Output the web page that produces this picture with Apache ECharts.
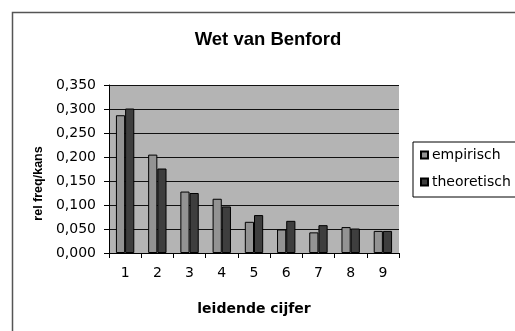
<!DOCTYPE html>
<html><head><meta charset="utf-8">
<script src="https://cdn.jsdelivr.net/npm/echarts@6/dist/echarts.min.js"></script>
<style>html,body{margin:0;padding:0;background:#fff}#c{width:515px;height:331px}</style>
</head><body><div id="c"></div>
<script>
var categories = ['1','2','3','4','5','6','7','8','9'];
var empirisch = [0.287, 0.205, 0.128, 0.113, 0.065, 0.049, 0.043, 0.054, 0.046];
var theoretisch = [0.301, 0.176, 0.125, 0.097, 0.079, 0.067, 0.058, 0.051, 0.046];
var yTicks = {min: 0, max: 0.35, interval: 0.05};

var chart = echarts.init(document.getElementById('c'), null, {renderer: 'canvas'});
var wide = '"DejaVu Sans", Arial, sans-serif';
var arial = 'Arial, "Liberation Sans", sans-serif';
chart.setOption({
  animation: false,
  backgroundColor: '#fff',
  graphic: [{
    type: 'rect', left: 10, top: 10, z: -1,
    shape: {width: 520, height: 340},
    style: {fill: 'none', stroke: '#555', lineWidth: 1.5}
  }, {
    type: 'rect', left: 109, top: 85, z: -1, silent: true,
    shape: {width: 290, height: 168},
    style: {fill: '#b4b4b4'}
  }],
  title: {
    text: 'Wet van Benford', left: 263, top: 25, textAlign: 'center',
    textStyle: {fontFamily: arial, fontSize: 18.5, fontWeight: 'bold', color: '#000'}
  },
  legend: {
    orient: 'vertical', left: 413, top: 142,
    itemWidth: 7, itemHeight: 7, itemGap: 13,
    borderColor: '#000', borderWidth: 1, padding: [6, 8, 8, 7],
    icon: 'rect',
    textStyle: {fontFamily: wide, fontSize: 14, color: '#000', padding: [0, 0, 0, -1]},
    data: ['empirisch', 'theoretisch']
  },
  grid: {left: 109, top: 85, right: 116, bottom: 78},
  xAxis: {
    type: 'category', data: categories,
    name: 'leidende cijfer', nameLocation: 'middle', nameGap: 49,
    nameTextStyle: {fontFamily: wide, fontSize: 14, fontWeight: 'bold', color: '#000'},
    axisLine: {lineStyle: {color: '#000', width: 1}},
    axisTick: {show: true, length: 5, inside: false, lineStyle: {color: '#000'}},
    axisLabel: {fontFamily: wide, fontSize: 14, color: '#000', margin: 13}
  },
  yAxis: {
    type: 'value', min: yTicks.min, max: yTicks.max, interval: yTicks.interval,
    name: 'rel freq/kans', nameLocation: 'middle', nameGap: 63, nameRotate: 90,
    nameTextStyle: {fontFamily: arial, fontSize: 12.5, fontWeight: 'bold', color: '#000',
      padding: [0, 29, 0, 0]},
    axisLine: {show: true, lineStyle: {color: '#000', width: 1}},
    axisTick: {show: true, length: 5, lineStyle: {color: '#000'}},
    axisLabel: {fontFamily: wide, fontSize: 14, color: '#000', margin: 13,
      formatter: function (v) { return v.toFixed(3).replace('.', ','); }},
    splitLine: {show: true, lineStyle: {color: '#111', width: 1}}
  },
  series: [{
    name: 'empirisch', type: 'bar', data: empirisch,
    barGap: '0%', barCategoryGap: '43%',
    itemStyle: {color: '#939393', borderColor: '#000', borderWidth: 1}
  }, {
    name: 'theoretisch', type: 'bar', data: theoretisch,
    itemStyle: {color: '#3e3e3e', borderColor: '#000', borderWidth: 1}
  }]
});
</script></body></html>
